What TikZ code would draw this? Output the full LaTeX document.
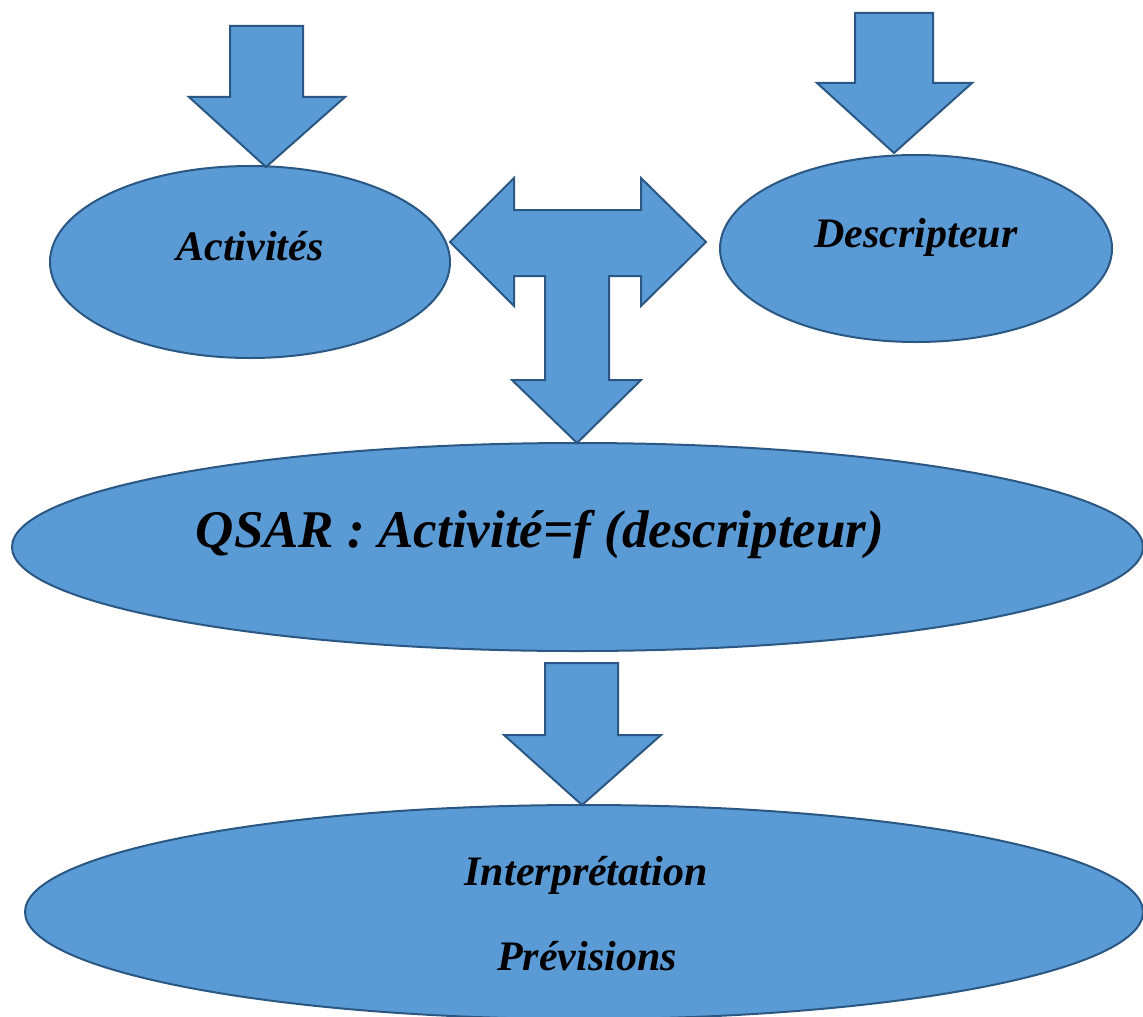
\documentclass[tikz,border=0pt]{standalone}
\usepackage{fontspec}
\setmainfont{Liberation Serif}
\usetikzlibrary{shapes.geometric}
\definecolor{shapefill}{HTML}{5B9BD5}
\definecolor{shapeedge}{HTML}{2A5783}
\tikzset{
  blob/.style={ellipse, draw=shapeedge, fill=shapefill, line width=1pt, inner sep=0pt},
  blockarrow/.style={draw=shapeedge, fill=shapefill, line width=1pt, line join=miter},
  lbl/.style={anchor=base, inner sep=0pt, font=\bfseries\itshape\fontsize{21}{25}\selectfont},
  biglbl/.style={anchor=base, inner sep=0pt, font=\bfseries\itshape\fontsize{26.5}{30}\selectfont}
}
\begin{document}
\begin{tikzpicture}[x=0.5pt,y=-0.5pt]
\useasboundingbox (0,0) rectangle (1143,1016);
\begin{scope}
\clip (0,0) rectangle (1143,1016);
% ellipses
\node[blob, minimum width=200pt, minimum height=96pt] (act) at (250,262) {};
\node[blob, minimum width=196pt, minimum height=93.5pt] (desc) at (916,248.5) {};
\node[blob, minimum width=565.5pt, minimum height=104pt] (qsar) at (577.5,547) {};
\node[blob, minimum width=559pt, minimum height=107pt] (interp) at (584,912) {};
% arrows
\draw[blockarrow] (230,26) -- (303,26) -- (303,97) -- (345,97) -- (266,167) -- (189,97) -- (230,97) -- cycle;
\draw[blockarrow] (855,13) -- (933,13) -- (933,83) -- (972,83) -- (894,153) -- (817,83) -- (855,83) -- cycle;
\draw[blockarrow] (450,242) -- (514,178) -- (514,210) -- (641,210) -- (641,178) -- (706,242) -- (641,306) -- (641,276) -- (609,276) -- (609,380) -- (641,380) -- (577,443) -- (512,380) -- (545,380) -- (545,276) -- (514,276) -- (514,306) -- cycle;
\draw[blockarrow] (545,663) -- (618,663) -- (618,735) -- (661,735) -- (582,805) -- (504,735) -- (545,735) -- cycle;
\end{scope}
% labels
\node[lbl] (tact) at (250,260) {Activités};
\node[lbl] (tdesc) at (916,247) {Descripteur};
\node[biglbl] (tqsar) at (540,547) {QSAR : Activité=f (descripteur)};
\node[lbl] (tint) at (586,885) {Interprétation};
\node[lbl] (tprev) at (587,970) {Prévisions};
\end{tikzpicture}
\end{document}
